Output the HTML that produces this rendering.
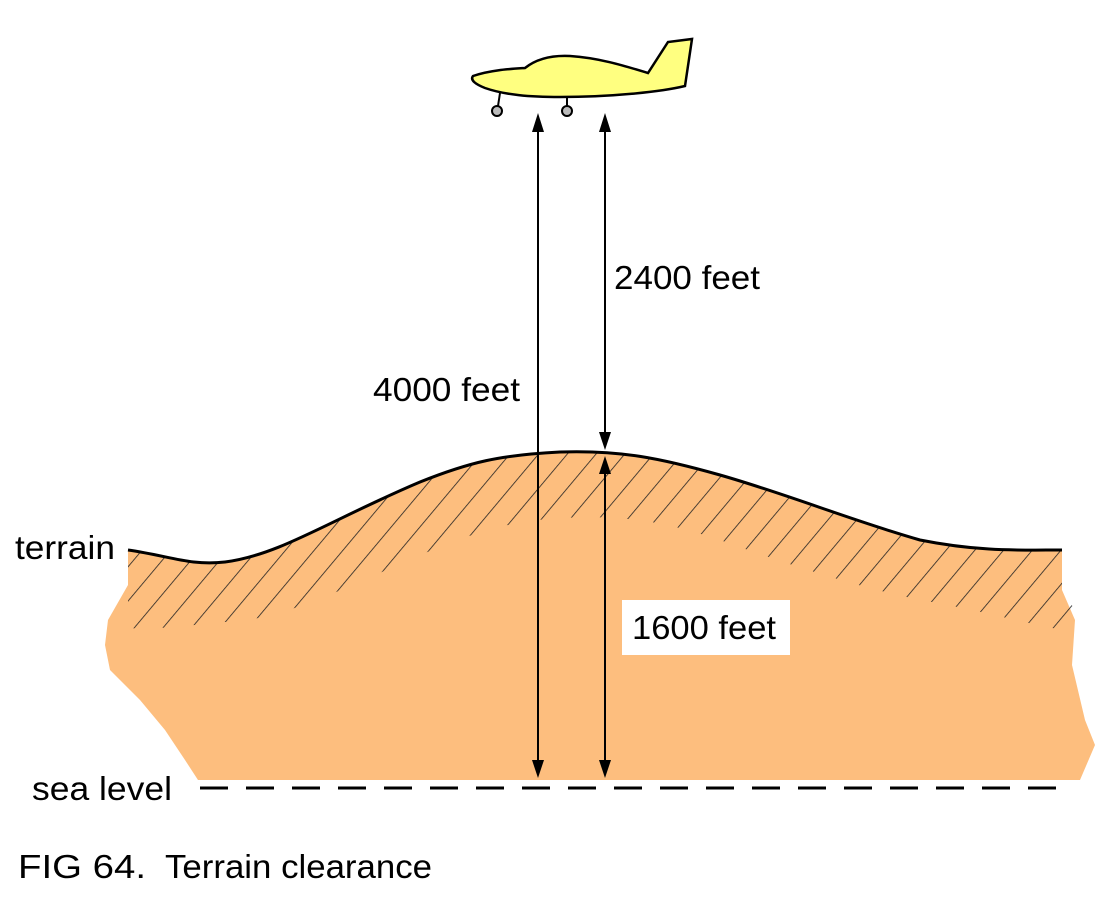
<!DOCTYPE html>
<html><head><style>html,body{margin:0;padding:0;background:#fff}svg{display:block}</style></head>
<body>
<svg width="1120" height="900" viewBox="0 0 1120 900" xmlns="http://www.w3.org/2000/svg" font-family="Liberation Sans, sans-serif">
<defs>
<pattern id="h" patternUnits="userSpaceOnUse" width="22" height="22" patternTransform="rotate(40)">
<line x1="0" y1="0" x2="0" y2="22" stroke="#222" stroke-width="1.6"/>
</pattern>
<clipPath id="band">
<path d="M128,550 C170,556 190,566 225,562 C280,555 330,520 420,482 C470,462 500,455 560,452 C620,450 660,458 720,475 C790,495 850,520 920,540 C980,552 1020,550 1062,550 L1062,590 L1075,610 L1075,632 C1030,625 980,610 920,600 C850,585 790,565 720,540 C660,520 620,515 560,518 C500,522 470,535 420,555 C330,595 280,620 225,622 C190,625 160,630 128,628 Z"/>
</clipPath>
</defs>
<path d="M128,550 C170,556 190,566 225,562 C280,555 330,520 420,482 C470,462 500,455 560,452 C620,450 660,458 720,475 C790,495 850,520 920,540 C980,552 1020,550 1062,550 L1062,590 L1075,620 L1072,665 L1085,720 L1095,745 L1080,780 L198,780 L185,760 L165,730 L140,700 L110,670 L105,645 L108,620 L128,585 Z" fill="#FDBE7E"/>
<rect x="100" y="440" width="1000" height="300" fill="url(#h)" clip-path="url(#band)"/>
<path d="M128,550 C170,556 190,566 225,562 C280,555 330,520 420,482 C470,462 500,455 560,452 C620,450 660,458 720,475 C790,495 850,520 920,540 C980,552 1020,550 1062,550" fill="none" stroke="#000" stroke-width="3"/>
<line x1="200" y1="788" x2="1062" y2="788" stroke="#000" stroke-width="3" stroke-dasharray="28,18"/>
<path d="M473,76 C490,70 510,69 525,68 C535,60 550,55 570,56 C600,58 625,66 648,73 L668,42 L692,39 L685,86 C660,92 610,97 560,97 C530,97 505,95 485,88 C475,84 470,80 473,76 Z" fill="#FFFF80" stroke="#000" stroke-width="2.5"/>
<line x1="500" y1="93" x2="498" y2="106" stroke="#000" stroke-width="2"/>
<line x1="567" y1="97" x2="567" y2="106" stroke="#000" stroke-width="2"/>
<circle cx="497" cy="111" r="5" fill="#bbb" stroke="#000" stroke-width="2"/>
<circle cx="567" cy="111" r="5" fill="#bbb" stroke="#000" stroke-width="2"/>
<line x1="538" y1="128" x2="538" y2="765" stroke="#000" stroke-width="2"/>
<line x1="605" y1="128" x2="605" y2="440" stroke="#000" stroke-width="2"/>
<line x1="605" y1="466" x2="605" y2="770" stroke="#000" stroke-width="2"/>
<path d="M538,113 L532,132 L544,132 Z M605,113 L599,132 L611,132 Z M538,778 L532,760 L544,760 Z M605,450 L599,432 L611,432 Z M605,456 L599,474 L611,474 Z M605,778 L599,760 L611,760 Z"/>
<rect x="622" y="600" width="168" height="55" fill="#fff"/>
<g font-size="33" fill="#000">
<text x="614" y="289" textLength="146" lengthAdjust="spacingAndGlyphs">2400 feet</text>
<text x="373" y="401" textLength="147" lengthAdjust="spacingAndGlyphs">4000 feet</text>
<text x="632" y="639" textLength="144" lengthAdjust="spacingAndGlyphs">1600 feet</text>
<text x="15" y="559" textLength="100" lengthAdjust="spacingAndGlyphs">terrain</text>
<text x="32" y="800" textLength="140" lengthAdjust="spacingAndGlyphs">sea level</text>
<text x="18" y="878" textLength="128" lengthAdjust="spacingAndGlyphs">FIG 64.</text>
<text x="165" y="878" textLength="267" lengthAdjust="spacingAndGlyphs">Terrain clearance</text>
</g>
</svg>
</body></html>
